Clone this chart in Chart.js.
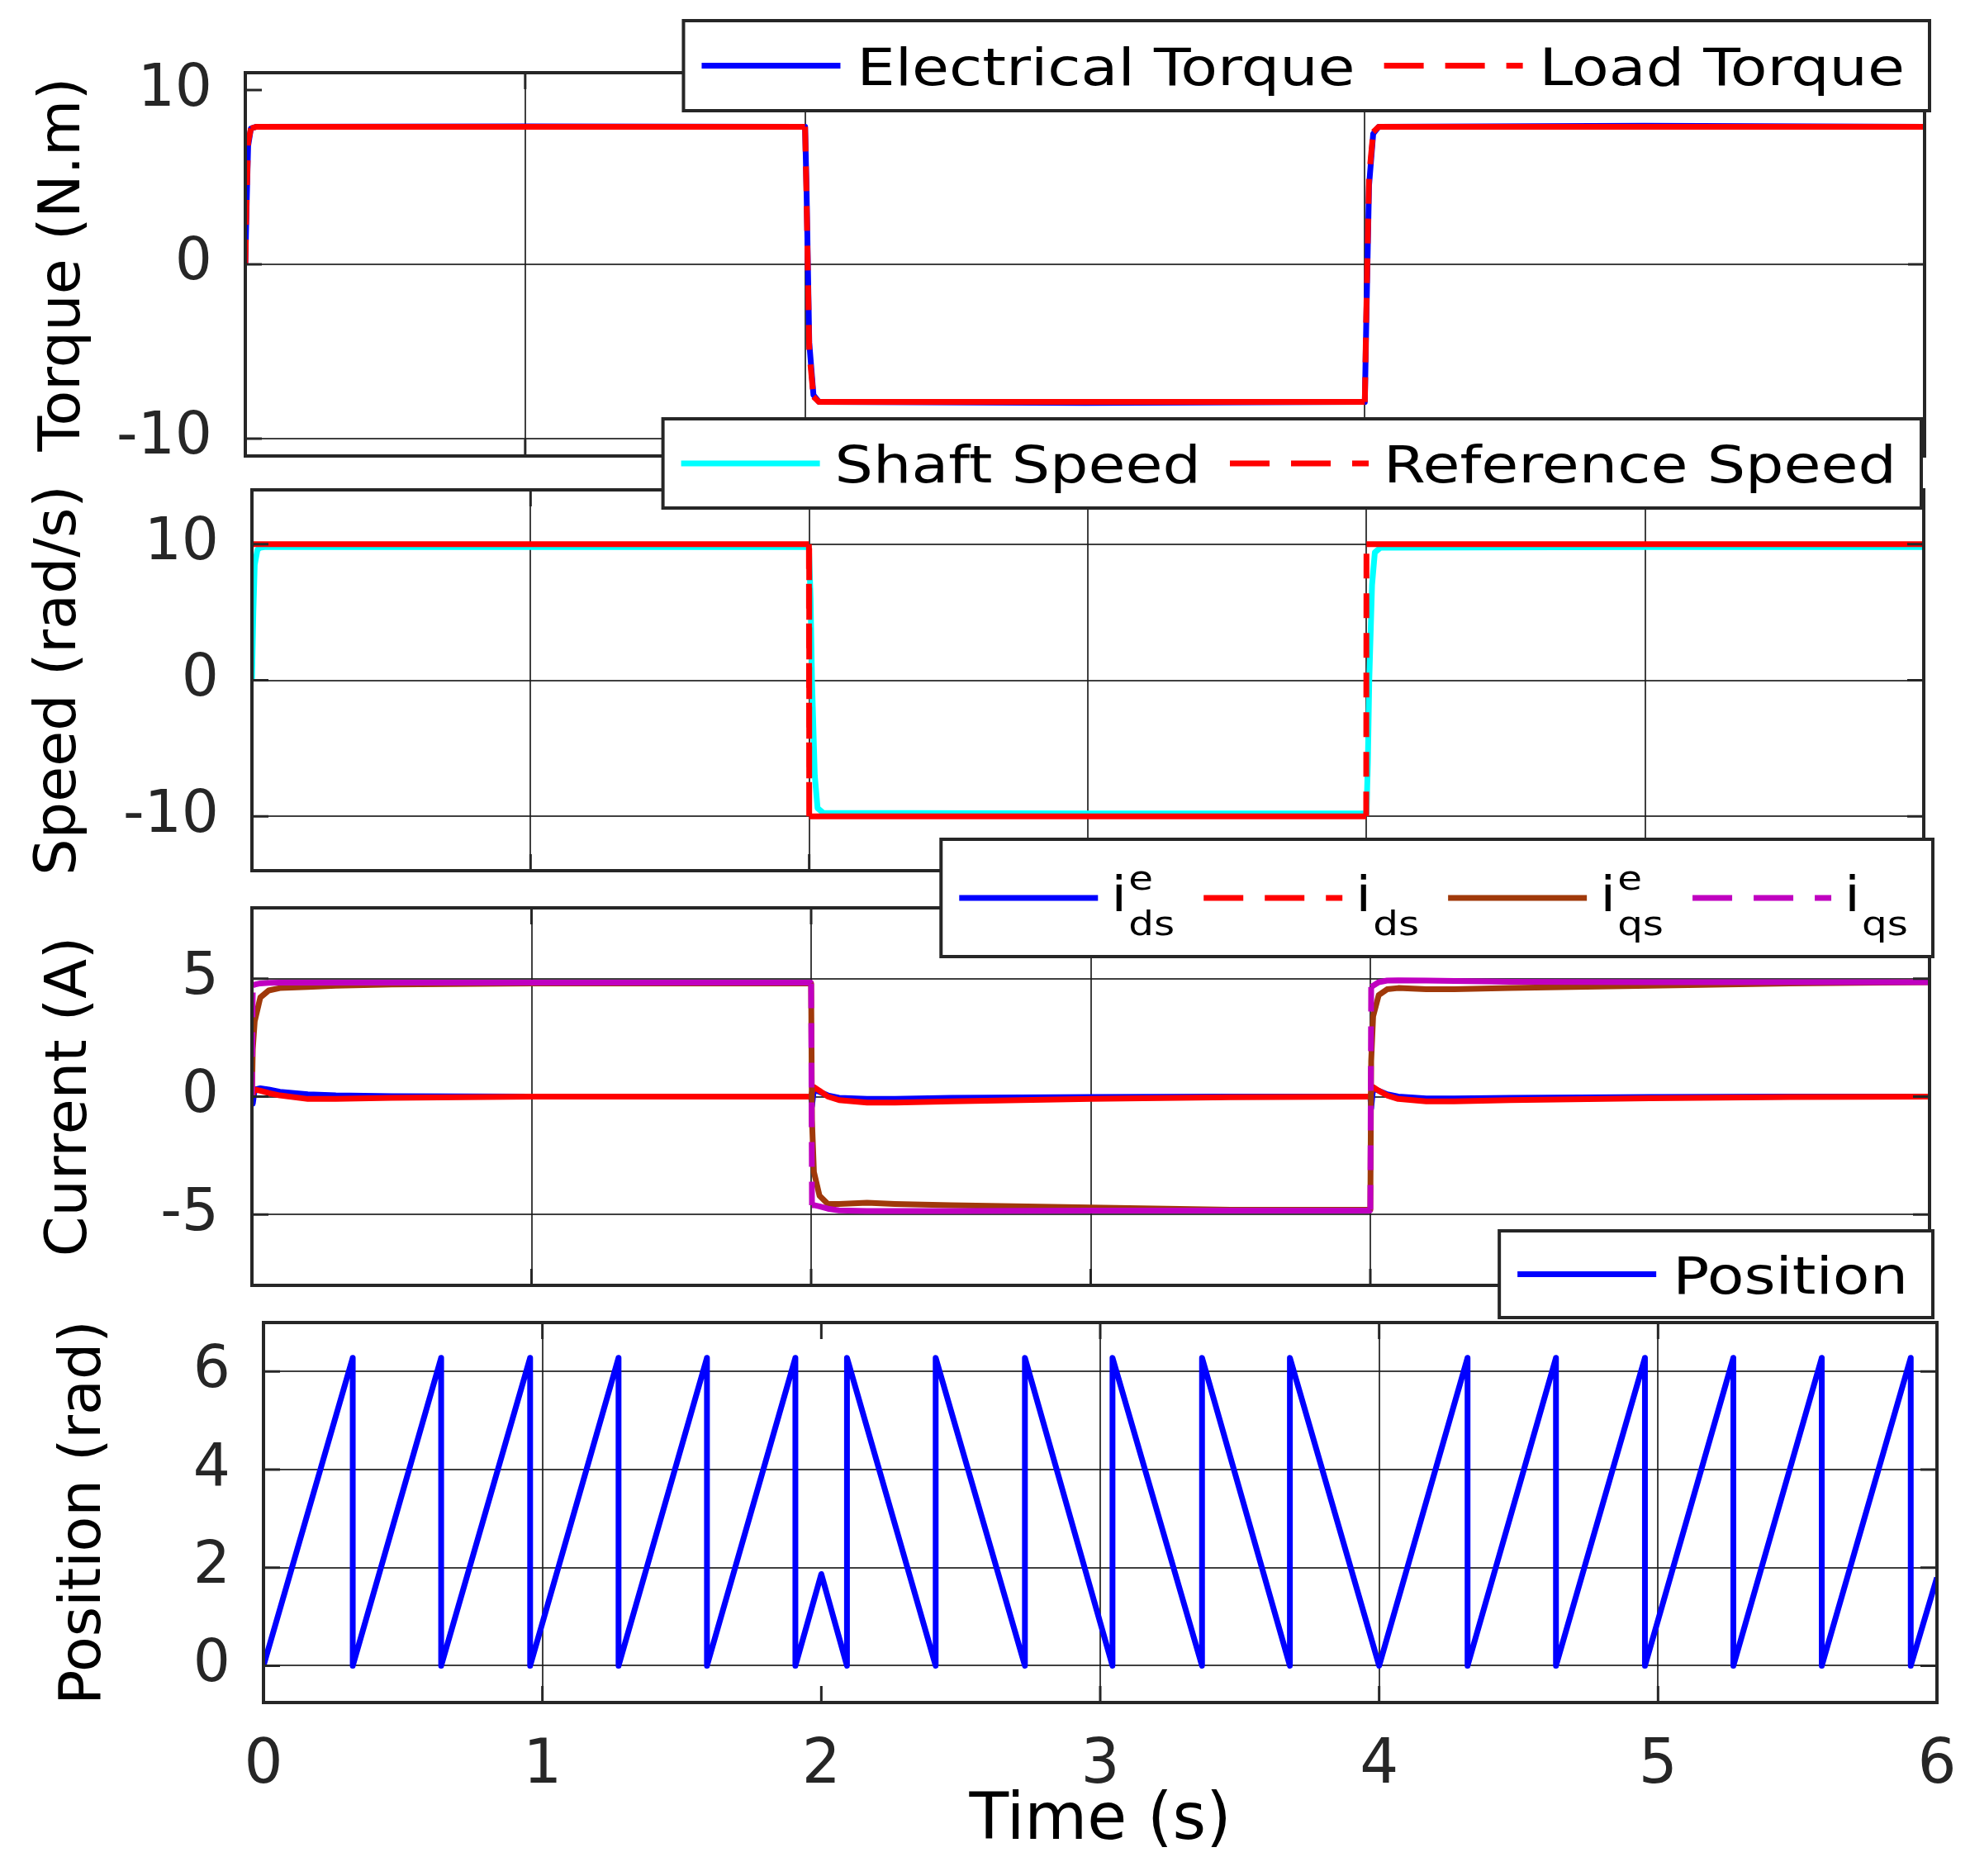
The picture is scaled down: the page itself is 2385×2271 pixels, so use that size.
<!DOCTYPE html>
<html>
<head>
<meta charset="utf-8">
<title>Motor drive response</title>
<script src="https://cdn.jsdelivr.net/npm/chart.js@4.4.1/dist/chart.umd.min.js"></script>
<style>
    html, body { margin: 0; padding: 0; background: #fff; }
    #page { position: relative; width: 2385px; height: 2271px; overflow: hidden; background: #fff; }
    #page canvas { position: absolute; left: 0; }
</style>
</head>
<body>
<div id="page">
    <canvas id="torque-chart"></canvas>
    <canvas id="speed-chart"></canvas>
    <canvas id="current-chart"></canvas>
    <canvas id="position-chart"></canvas>
</div>
<script>
'use strict';

// Values (time in s):
var timeTicks = [0, 1, 2, 3, 4, 5, 6];

var torqueTicks = [-10, 0, 10];
var torqueTime = [0, 0.004, 0.01, 0.02, 0.04, 1.0, 1.99, 2.0, 2.005, 2.015, 2.03, 2.05, 3.0, 3.99, 4.0, 4.005, 4.015, 4.03, 4.05, 5.0, 6.0];
var electricalTorque = [0, 3.0, 6.8, 7.8, 7.9, 7.92, 7.9, 7.9, 4.5, -4.5, -7.5, -7.9, -7.95, -7.9, -7.9, -3.5, 4.5, 7.5, 7.9, 7.95, 7.9];
var loadTorque = [0, 3.5, 7.0, 7.8, 7.9, 7.9, 7.9, 7.9, 4.0, -5.0, -7.6, -7.9, -7.9, -7.9, -7.9, -3.0, 5.0, 7.6, 7.9, 7.9, 7.9];

var speedTicks = [-10, 0, 10];
var speedTime = [0, 0.005, 0.01, 0.02, 0.03, 0.05, 1.0, 1.999, 2.0, 2.005, 2.01, 2.02, 2.03, 2.05, 3.0, 3.999, 4.0, 4.005, 4.01, 4.02, 4.03, 4.05, 5.0, 6.0];
var shaftSpeed = [0, 5, 8.5, 9.6, 9.75, 9.8, 9.8, 9.8, 9.8, 6, 0, -7, -9.4, -9.75, -9.8, -9.8, -9.8, -6, 0, 7, 9.4, 9.75, 9.8, 9.8];
var referenceSpeed = [10, 10, 10, 10, 10, 10, 10, 10, -10, -10, -10, -10, -10, -10, -10, -10, 10, 10, 10, 10, 10, 10, 10, 10];

var currentTicks = [-5, 0, 5];
var currentTime = [0, 0.003, 0.01, 0.03, 0.06, 0.1, 0.2, 0.3, 0.5, 1.0, 1.5, 1.999,
    2.0, 2.003, 2.01, 2.03, 2.06, 2.1, 2.2, 2.3, 2.5, 3.0, 3.5, 3.999,
    4.0, 4.003, 4.01, 4.03, 4.06, 4.1, 4.2, 4.3, 4.5, 5.0, 5.5, 6.0];
var idsE = [0, -0.3, 0.3, 0.35, 0.3, 0.2, 0.1, 0.05, 0.02, 0, 0, 0,
    0, -0.4, 0.3, 0.2, 0.05, -0.05, -0.1, -0.1, -0.05, -0.02, 0, 0,
    0, -0.5, 0.35, 0.25, 0.1, 0, -0.08, -0.08, -0.05, -0.02, 0, 0];
var ids = [0, 0.1, 0.3, 0.25, 0.15, 0.05, -0.1, -0.1, -0.05, 0, 0, 0,
    0, 0.2, 0.4, 0.25, 0, -0.15, -0.25, -0.25, -0.2, -0.1, -0.03, 0,
    0, 0.2, 0.4, 0.25, 0.05, -0.1, -0.2, -0.2, -0.15, -0.07, -0.02, 0];
var iqsE = [0, 2.0, 3.2, 4.2, 4.5, 4.6, 4.65, 4.7, 4.75, 4.8, 4.8, 4.8,
    4.8, -1.0, -3.2, -4.2, -4.55, -4.55, -4.5, -4.55, -4.6, -4.7, -4.8, -4.8,
    -4.8, 1.5, 3.4, 4.3, 4.55, 4.6, 4.55, 4.55, 4.6, 4.7, 4.8, 4.85];
var iqs = [0, 4.7, 4.75, 4.8, 4.82, 4.83, 4.83, 4.83, 4.83, 4.83, 4.83, 4.83,
    4.8, -4.6, -4.6, -4.65, -4.75, -4.82, -4.85, -4.85, -4.85, -4.83, -4.83, -4.83,
    -4.8, 4.65, 4.7, 4.85, 4.92, 4.93, 4.92, 4.9, 4.87, 4.85, 4.85, 4.85];

var positionTicks = [0, 2, 4, 6];
var positionTime = [0, 0.32, 0.32, 0.637, 0.637, 0.956, 0.956, 1.273, 1.273, 1.59, 1.59, 1.907, 1.907,
    2.0, 2.092, 2.092, 2.41, 2.41, 2.73, 2.73, 3.044, 3.044, 3.365, 3.365, 3.68, 3.68,
    4.0, 4.317, 4.317, 4.634, 4.634, 4.953, 4.953, 5.27, 5.27, 5.587, 5.587, 5.906, 5.906, 6.0];
var positionRad = [0, 6.28, 0, 6.28, 0, 6.28, 0, 6.28, 0, 6.28, 0, 6.28, 0,
    1.87, 0, 6.28, 0, 6.28, 0, 6.28, 0, 6.28, 0, 6.28, 0, 6.28,
    0, 6.28, 0, 6.28, 0, 6.28, 0, 6.28, 0, 6.28, 0, 6.28, 0, 1.8];

// Styling:
var FONT = '"DejaVu Sans", sans-serif';
var AXIS_COLOR = '#262626';
var GRID_COLOR = 'rgba(30, 30, 30, 0.85)';
var TEXT_SX = 1.18;      // legend text is a bit wider than the font
var LINE_W = 7;

function points(t, v) {
    return t.map(function (x, i) { return { x: x, y: v[i] }; });
}

// Dashed only where the line runs (nearly) vertical, solid elsewhere:
function steepDash(ctx) {
    var dx = Math.abs(ctx.p1.x - ctx.p0.x);
    var dy = Math.abs(ctx.p1.y - ctx.p0.y);
    return dy > 4 * dx ? [30, 18] : undefined;
}

function series(label, t, v, color, dashed, order) {
    var ds = {
        label: label,
        data: points(t, v),
        borderColor: color,
        backgroundColor: color,
        borderWidth: LINE_W,
        borderJoinStyle: 'round',
        pointRadius: 0,
        fill: false,
        tension: 0,
        order: order,
        dashed: dashed
    };
    if (dashed) {
        ds.segment = { borderDash: steepDash };
    }
    return ds;
}

// Box with inward tick marks on all four sides:
var framePlugin = {
    id: 'matlabBox',
    afterDatasetsDraw: function (chart) {
        var a = chart.chartArea;
        var ctx = chart.ctx;
        var xs = chart.scales.x;
        var ys = chart.scales.y;
        ctx.save();
        ctx.strokeStyle = AXIS_COLOR;
        ctx.lineWidth = 3;
        ctx.setLineDash([]);
        ctx.beginPath();
        xs.ticks.forEach(function (t) {
            var px = xs.getPixelForValue(t.value);
            ctx.moveTo(px, a.bottom); ctx.lineTo(px, a.bottom - 20);
            ctx.moveTo(px, a.top); ctx.lineTo(px, a.top + 20);
        });
        ys.ticks.forEach(function (t) {
            var py = ys.getPixelForValue(t.value);
            ctx.moveTo(a.left, py); ctx.lineTo(a.left + 20, py);
            ctx.moveTo(a.right, py); ctx.lineTo(a.right - 20, py);
        });
        ctx.stroke();
        ctx.lineWidth = 4;
        ctx.strokeRect(a.left, a.top, a.right - a.left, a.bottom - a.top);
        ctx.restore();
    }
};

// Legend labels like 'i_ds^e' get a subscript and a superscript.
function parseLabel(s) {
    var m = /^(\w)_(\w+)(?:\^(\w+))?$/.exec(s);
    return m ? { base: m[1], sub: m[2], sup: m[3] || '' } : null;
}

function stretchedText(ctx, text, x, y) {
    ctx.save();
    ctx.translate(x, y);
    ctx.scale(TEXT_SX, 1);
    ctx.fillText(text, 0, 0);
    ctx.restore();
}

function labelWidth(ctx, s) {
    var p = parseLabel(s);
    if (!p) {
        ctx.font = '62px ' + FONT;
        return ctx.measureText(s).width * TEXT_SX;
    }
    ctx.font = '58px ' + FONT;
    var w = ctx.measureText(p.base).width * TEXT_SX + 2;
    ctx.font = '41px ' + FONT;
    return w + Math.max(ctx.measureText(p.sub).width, ctx.measureText(p.sup).width) * TEXT_SX;
}

function drawLabel(ctx, s, x, mid) {
    var p = parseLabel(s);
    ctx.fillStyle = '#000';
    ctx.textAlign = 'left';
    ctx.textBaseline = 'alphabetic';
    if (!p) {
        ctx.font = '62px ' + FONT;
        stretchedText(ctx, s, x, mid + 23);
        return;
    }
    var base = mid + 16;
    ctx.font = '58px ' + FONT;
    stretchedText(ctx, p.base, x, base);
    var x2 = x + ctx.measureText(p.base).width * TEXT_SX + 2;
    ctx.font = '41px ' + FONT;
    stretchedText(ctx, p.sub, x2, base + 29);
    if (p.sup) {
        stretchedText(ctx, p.sup, x2, base - 26);
    }
}

function makeLegend(box, canvasTop) {
    return {
        id: 'boxLegend',
        afterDraw: function (chart) {
            var ctx = chart.ctx;
            var sets = chart.data.datasets;
            var pad = 22, sample = 168, gap = box.gap, itemGap = 35, padRight = 30;
            ctx.save();
            var widths = sets.map(function (ds) { return labelWidth(ctx, ds.label); });
            var total = pad + padRight - itemGap;
            widths.forEach(function (w) { total += sample + gap + w + itemGap; });
            var right = box.right;
            var left = right - total;
            var top = box.top - canvasTop;
            var bottom = box.bottom - canvasTop;
            var mid = (top + bottom) / 2;

            ctx.fillStyle = '#fff';
            ctx.fillRect(left, top, right - left, bottom - top);
            ctx.strokeStyle = AXIS_COLOR;
            ctx.lineWidth = 4;
            ctx.setLineDash([]);
            ctx.strokeRect(left, top, right - left, bottom - top);

            var x = left + pad;
            sets.forEach(function (ds, i) {
                ctx.beginPath();
                ctx.setLineDash(ds.dashed ? [48, 26] : []);
                ctx.lineWidth = LINE_W;
                ctx.strokeStyle = ds.borderColor;
                ctx.moveTo(x, mid);
                ctx.lineTo(x + sample, mid);
                ctx.stroke();
                ctx.setLineDash([]);
                x += sample + gap;
                drawLabel(ctx, ds.label, x, mid);
                x += widths[i] + itemGap;
            });
            ctx.restore();
        }
    };
}

function gridFor(values) {
    return {
        color: function (c) {
            return c.tick && values.indexOf(c.tick.value) >= 0 ? GRID_COLOR : 'rgba(0,0,0,0)';
        },
        lineWidth: 2,
        drawTicks: false
    };
}

function makePanel(id, p) {
    var canvas = document.getElementById(id);
    canvas.width = 2385;
    canvas.height = p.canvasBottom - p.canvasTop;
    canvas.style.top = p.canvasTop + 'px';
    var xHeight = p.showX ? p.canvasBottom - p.bottom : 0;

    return new Chart(canvas.getContext('2d'), {
        type: 'line',
        data: { datasets: p.datasets },
        options: {
            responsive: false,
            animation: false,
            devicePixelRatio: 1,
            layout: {
                padding: {
                    top: p.top - p.canvasTop,
                    bottom: p.showX ? 0 : p.canvasBottom - p.bottom,
                    left: 0,
                    right: 2385 - p.right
                }
            },
            plugins: {
                legend: { display: false },
                tooltip: { enabled: false }
            },
            scales: {
                x: {
                    type: 'linear',
                    min: 0,
                    max: 6,
                    afterBuildTicks: function (s) {
                        s.ticks = timeTicks.map(function (v) { return { value: v }; });
                    },
                    afterFit: function (s) {
                        s.height = xHeight;
                        s.paddingLeft = 0;
                        s.paddingRight = 0;
                    },
                    grid: gridFor(p.xGrid),
                    border: { display: false },
                    ticks: {
                        display: p.showX,
                        autoSkip: false,
                        maxRotation: 0,
                        padding: 33,
                        color: AXIS_COLOR,
                        font: { family: FONT, size: 74 }
                    },
                    title: {
                        display: p.showX,
                        text: 'Time (s)',
                        color: '#000',
                        font: { family: FONT, size: 78 },
                        padding: { top: 0, bottom: 18 }
                    }
                },
                y: {
                    type: 'linear',
                    min: p.yMin,
                    max: p.yMax,
                    afterBuildTicks: function (s) {
                        s.ticks = p.yTicks.map(function (v) { return { value: v }; });
                    },
                    afterFit: function (s) {
                        s.width = p.left;
                        s.paddingTop = 0;
                        s.paddingBottom = 0;
                    },
                    grid: gridFor(p.yGrid),
                    border: { display: false },
                    ticks: {
                        padding: 40,
                        color: AXIS_COLOR,
                        font: { family: FONT, size: 71 }
                    },
                    title: {
                        display: true,
                        text: p.yTitle,
                        color: '#000',
                        font: { family: FONT, size: 70 },
                        padding: { top: p.titlePad, bottom: 0 }
                    }
                }
            }
        },
        plugins: [framePlugin, makeLegend(p.legend, p.canvasTop)]
    });
}

var torqueChart = makePanel('torque-chart', {
    canvasTop: 0, canvasBottom: 575,
    left: 297, top: 88, right: 2330, bottom: 552,
    yMin: -11, yMax: 11, yTicks: torqueTicks,
    xGrid: [1, 2, 4], yGrid: [0, -10],
    yTitle: 'Torque (N.m)', titlePad: 36, showX: false,
    legend: { right: 2336, top: 25, bottom: 134, gap: 20 },
    datasets: [
        series('Electrical Torque', torqueTime, electricalTorque, '#0000ff', false, 2),
        series('Load Torque', torqueTime, loadTorque, '#ff0000', true, 1)
    ]
});

var speedChart = makePanel('speed-chart', {
    canvasTop: 495, canvasBottom: 1075,
    left: 305, top: 593, right: 2329, bottom: 1054,
    yMin: -14, yMax: 14, yTicks: speedTicks,
    xGrid: [1, 2, 3, 4, 5], yGrid: [10, 0, -10],
    yTitle: 'Speed (rad/s)', titlePad: 31, showX: false,
    legend: { right: 2326, top: 507, bottom: 615, gap: 18 },
    datasets: [
        series('Shaft Speed', speedTime, shaftSpeed, '#00ffff', false, 2),
        series('Reference Speed', speedTime, referenceSpeed, '#ff0000', true, 1)
    ]
});

var currentChart = makePanel('current-chart', {
    canvasTop: 1005, canvasBottom: 1575,
    left: 305, top: 1099, right: 2336, bottom: 1556,
    yMin: -8, yMax: 8, yTicks: currentTicks,
    xGrid: [1, 2, 3, 4], yGrid: [5, 0, -5],
    yTitle: 'Current (A)', titlePad: 44, showX: false,
    legend: { right: 2340, top: 1016, bottom: 1158, gap: 16 },
    datasets: [
        series('i_ds^e', currentTime, idsE, '#0000ff', false, 4),
        series('i_ds', currentTime, ids, '#ff0000', true, 3),
        series('i_qs^e', currentTime, iqsE, '#a0390a', false, 2),
        series('i_qs', currentTime, iqs, '#c000c0', true, 1)
    ]
});

var positionChart = makePanel('position-chart', {
    canvasTop: 1480, canvasBottom: 2271,
    left: 319, top: 1601, right: 2345, bottom: 2061,
    yMin: -0.75, yMax: 7, yTicks: positionTicks,
    xGrid: [1, 3, 4, 5], yGrid: [0, 2, 4, 6],
    yTitle: 'Position (rad)', titlePad: 61, showX: true,
    legend: { right: 2340, top: 1490, bottom: 1595, gap: 20 },
    datasets: [
        series('Position', positionTime, positionRad, '#0000ff', false, 1)
    ]
});
</script>
</body>
</html>
